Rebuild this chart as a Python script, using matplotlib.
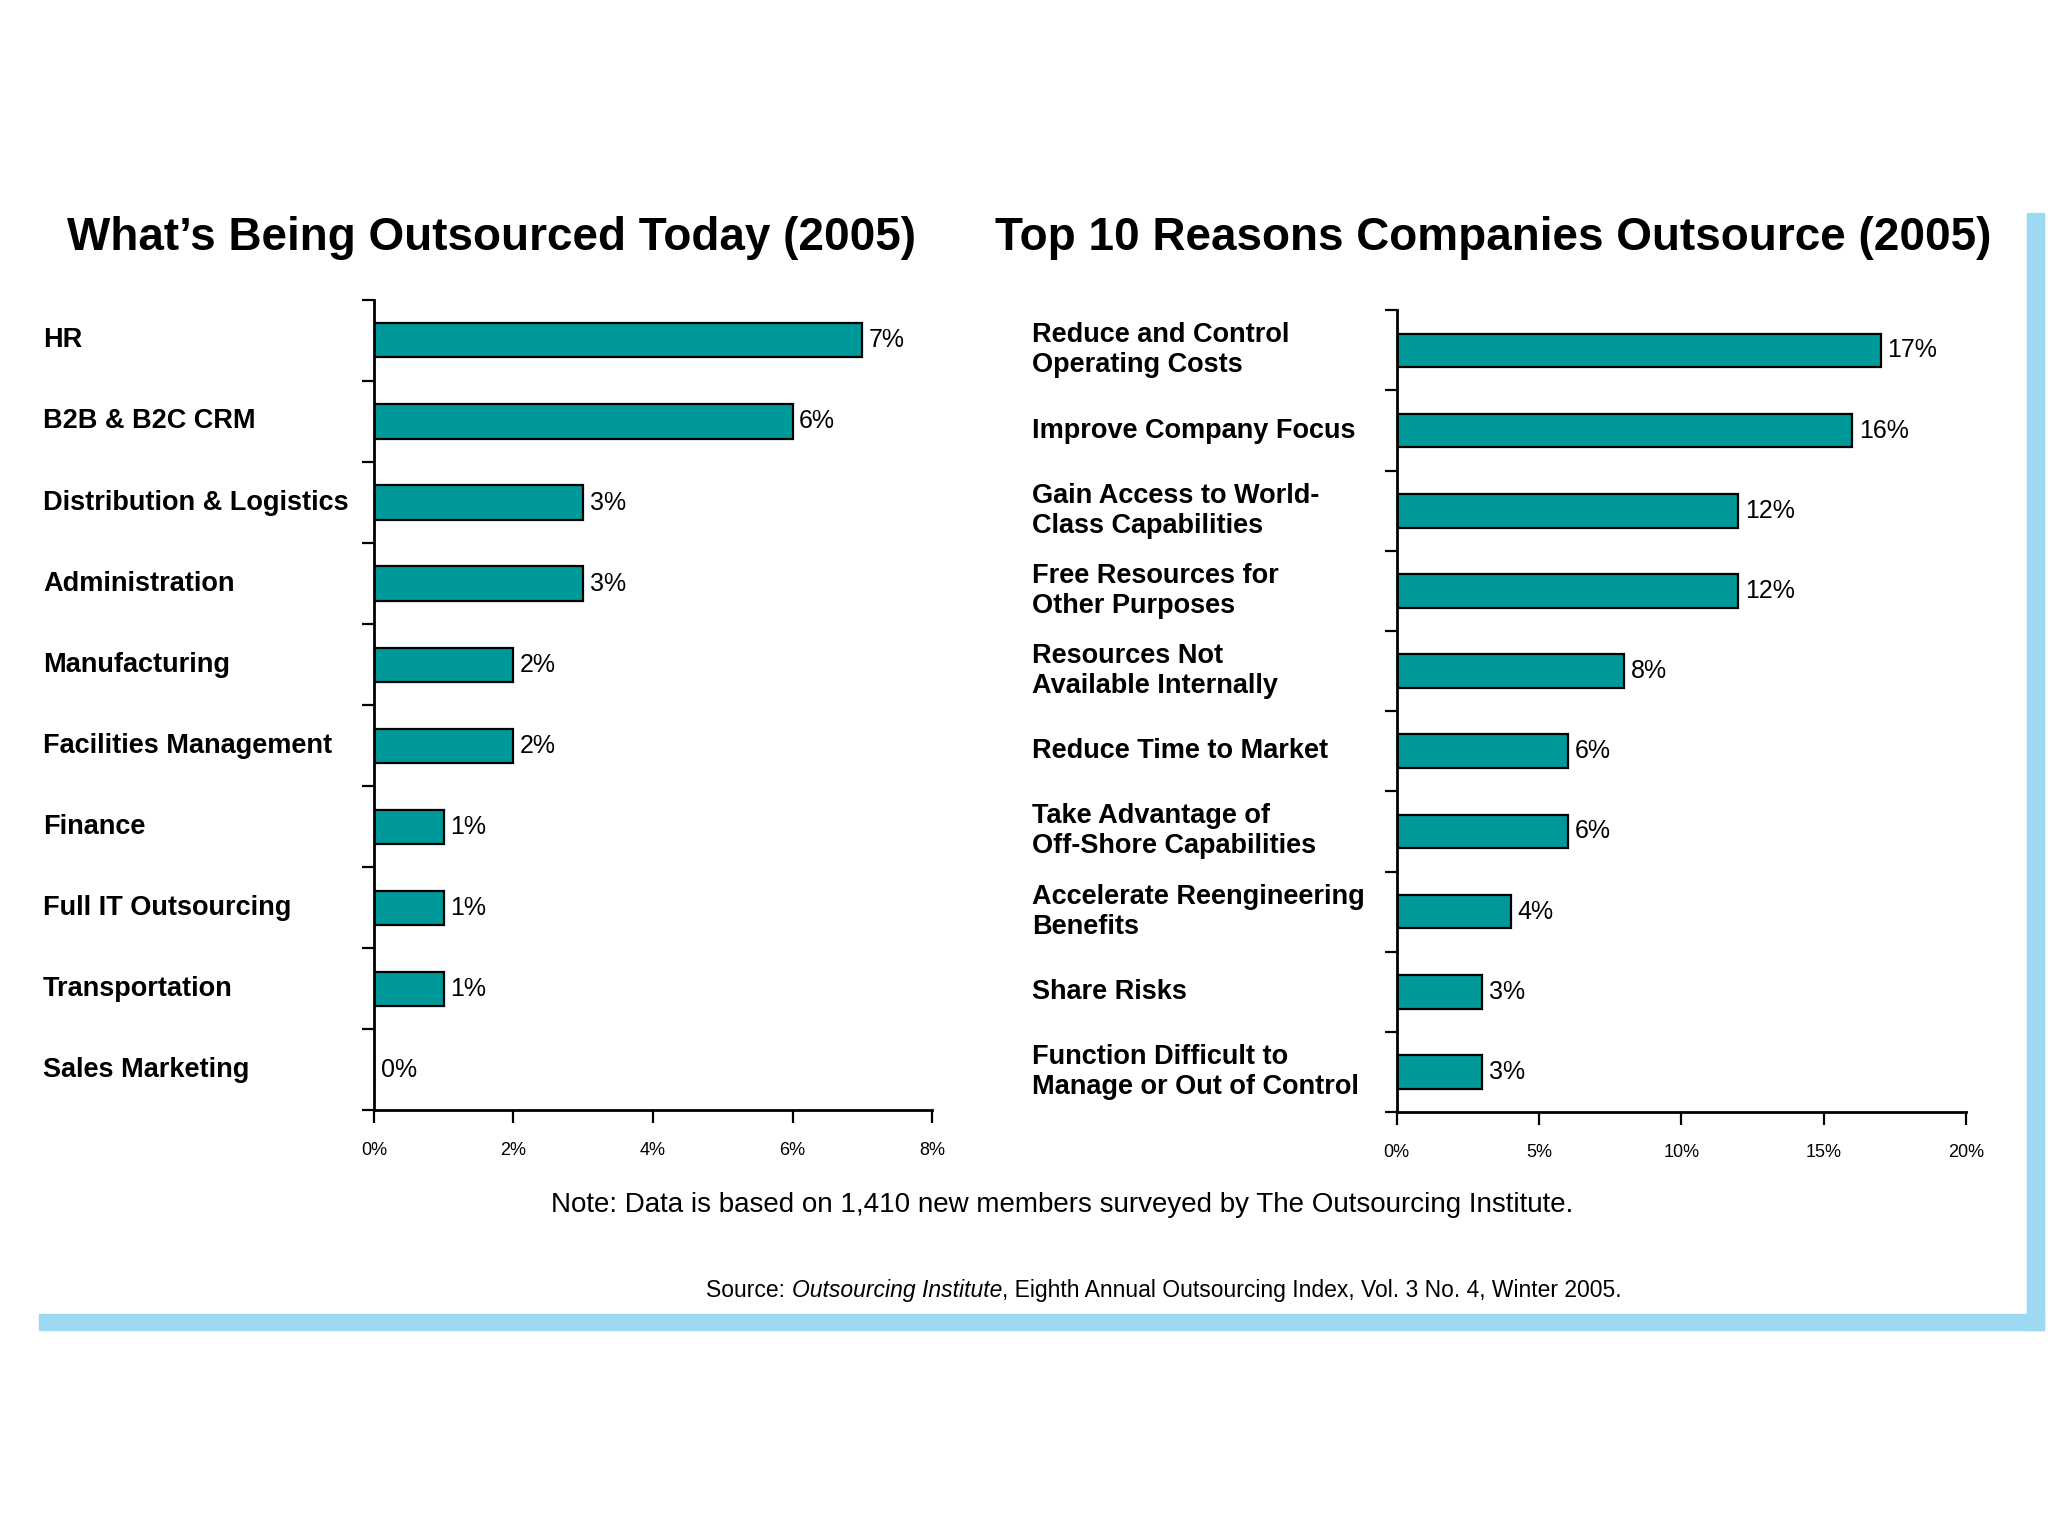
import matplotlib.pyplot as plt
from matplotlib.patches import Rectangle

plt.rcParams['font.family'] = ['Liberation Sans', 'DejaVu Sans']

# datos del panel izquierdo
left_title = "What\u2019s Being Outsourced Today (2005)"
left_cats = ["HR", "B2B & B2C CRM", "Distribution & Logistics", "Administration",
             "Manufacturing", "Facilities Management", "Finance",
             "Full IT Outsourcing", "Transportation", "Sales Marketing"]
left_vals = [7, 6, 3, 3, 2, 2, 1, 1, 1, 0]
left_ticks = [0, 2, 4, 6, 8]

# datos del panel derecho
right_title = "Top 10 Reasons Companies Outsource (2005)"
right_cats = ["Reduce and Control\nOperating Costs", "Improve Company Focus",
              "Gain Access to World-\nClass Capabilities", "Free Resources for\nOther Purposes",
              "Resources Not\nAvailable Internally", "Reduce Time to Market",
              "Take Advantage of\nOff-Shore Capabilities", "Accelerate Reengineering\nBenefits",
              "Share Risks", "Function Difficult to\nManage or Out of Control"]
right_vals = [17, 16, 12, 12, 8, 6, 6, 4, 3, 3]
right_ticks = [0, 5, 10, 15, 20]

note = "Note: Data is based on 1,410 new members surveyed by The Outsourcing Institute."
source_parts = [("Source: ", "normal"), ("Outsourcing Institute", "italic"),
                (", Eighth Annual Outsourcing Index, Vol. 3 No. 4, Winter 2005.", "normal")]

teal = "#009999"
blue = "#9DD9F3"

fig = plt.figure(figsize=(20.48, 15.36), dpi=100)


def panel(rect, cats, vals, ticks, label_x, title, title_x):
    ax = fig.add_axes(rect)
    n = len(cats)
    ax.barh(range(n), vals, height=0.42, color=teal, edgecolor="black", linewidth=1.6)
    ax.set_ylim(n - 0.5, -0.5)
    ax.set_xlim(ticks[0], ticks[-1])
    ax.set_yticks([i - 0.5 for i in range(n + 1)])
    ax.set_yticklabels([])
    ax.set_xticks(ticks)
    ax.set_xticklabels([f"{t}%" for t in ticks], fontsize=13)
    ax.tick_params(axis="both", direction="out", length=9, width=1.6)
    ax.tick_params(axis="x", pad=14)
    for s in ["top", "right"]:
        ax.spines[s].set_visible(False)
    for s in ["left", "bottom"]:
        ax.spines[s].set_linewidth(2)
    for i, v in enumerate(vals):
        ax.text(v + ticks[-1] * 0.012, i, f"{v}%", va="center", ha="left", fontsize=18)
    for i, c in enumerate(cats):
        y = ax.transData.transform((0, i))[1]
        yf = fig.transFigure.inverted().transform((0, y))[1]
        fig.text(label_x, yf, c, ha="left", va="center", fontsize=19.5,
                 fontweight="bold", linespacing=1.2)
    fig.text(title_x, 0.845, title, ha="center", va="center", fontsize=33, fontweight="bold")
    return ax


panel([0.1826, 0.2773, 0.2725, 0.5274], left_cats, left_vals, left_ticks, 0.021,
      left_title, 0.240)
panel([0.682, 0.276, 0.278, 0.522], right_cats, right_vals, right_ticks, 0.504,
      right_title, 0.729)

fig.text(0.5186, 0.2155, note, ha="center", va="center", fontsize=20)

# fuente: partes normal / cursiva, centradas en x=1164 px
renderer = fig.canvas.get_renderer()
pieces = [fig.text(0, 0.1600, t, ha="left", va="center", fontsize=16.5, style=st)
          for t, st in source_parts]
widths = [p.get_window_extent(renderer).width for p in pieces]
x = 1164 - sum(widths) / 2
for p, w in zip(pieces, widths):
    p.set_x(x / 2048)
    x += w

# marco azul
fig.patches.append(Rectangle((39 / 2048, 1 - 1330 / 1536), (2044 - 39) / 2048, 16 / 1536,
                             transform=fig.transFigure, color=blue, zorder=0))
fig.patches.append(Rectangle((2027 / 2048, 1 - 1330 / 1536), 17 / 2048, (1330 - 213) / 1536,
                             transform=fig.transFigure, color=blue, zorder=0))

plt.savefig("out.png", dpi=100)
